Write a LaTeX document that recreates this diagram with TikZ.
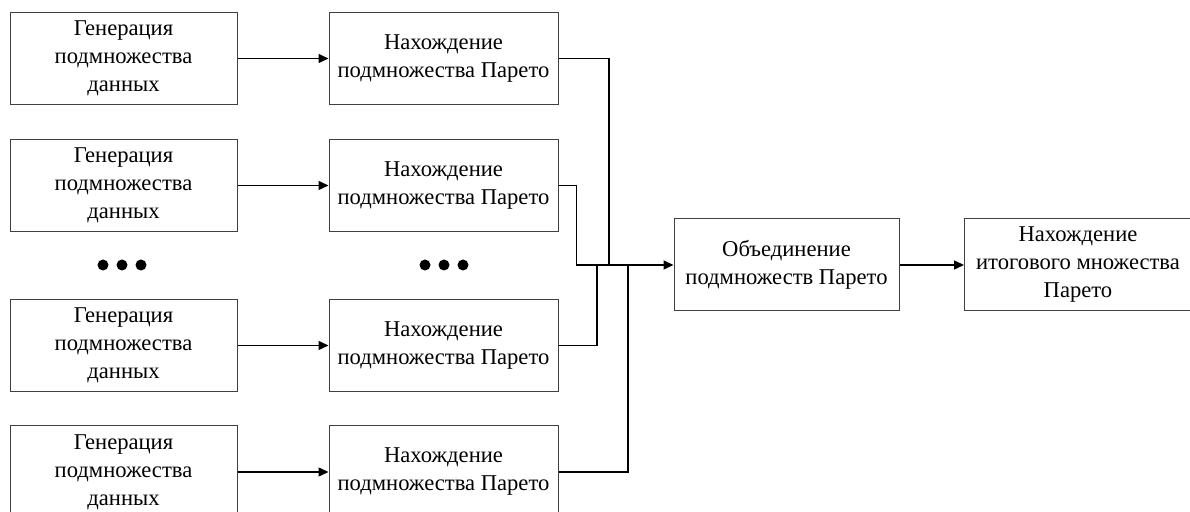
\documentclass[tikz,border=0pt]{standalone}
\usepackage{fontspec}
\setmainfont{Liberation Serif}
\usetikzlibrary{arrows.meta}

\begin{document}
\begin{tikzpicture}[x=0.5pt, y=-0.5pt,
	every node/.style={font=\fontsize{11.3}{14}\selectfont},
	box/.style={draw=black!75, line width=0.5pt, align=center, minimum height=46pt, inner sep=0pt},
	genbox/.style={box, minimum width=113.5pt},
	parbox/.style={box, minimum width=114.5pt},
	link/.style={line width=0.75pt},
	arr/.style={link, -{Triangle[length=5pt, width=4.5pt]}}]
	\useasboundingbox (0,0) rectangle (1190,512);
	\node[genbox] (g1) at (123.5,58.5) {Генерация\\подмножества\\данных};
	\node[genbox] (g2) at (123.5,185.5) {Генерация\\подмножества\\данных};
	\node[genbox] (g3) at (123.5,345.5) {Генерация\\подмножества\\данных};
	\node[genbox] (g4) at (123.5,472) {Генерация\\подмножества\\данных};
	\node[parbox] (p1) at (443.5,58.5) {Нахождение\\подмножества Парето};
	\node[parbox] (p2) at (443.5,185.5) {Нахождение\\подмножества Парето};
	\node[parbox] (p3) at (443.5,345.5) {Нахождение\\подмножества Парето};
	\node[parbox] (p4) at (443.5,472) {Нахождение\\подмножества Парето};
	\node[box, minimum width=112.5pt] (merge) at (786.5,265) {Объединение\\подмножеств Парето};
	\node[box, minimum width=113.5pt] (final) at (1078,265) {Нахождение\\итогового множества\\Парето};
	\fill (103,265) circle (5.5) (122,265) circle (5.5) (141,265) circle (5.5);
	\fill (425,265) circle (5.5) (444,265) circle (5.5) (463,265) circle (5.5);
	\draw[arr] (g1) -- (p1);
	\draw[arr] (g2) -- (p2);
	\draw[arr] (g3) -- (p3);
	\draw[arr] (g4) -- (p4);
	\coordinate (j1) at (609,265);
	\coordinate (j3) at (597,265);
	\coordinate (j4) at (628,265);
	\draw[link] (p1.east) -| (j1);
	\draw[link] (p3.east) -| (j3);
	\draw[link] (p4.east) -| (j4);
	\draw[arr] (p2.east) -- ++(18,0) |- (merge.west);
	\draw[arr] (merge) -- (final);
\end{tikzpicture}
\end{document}
